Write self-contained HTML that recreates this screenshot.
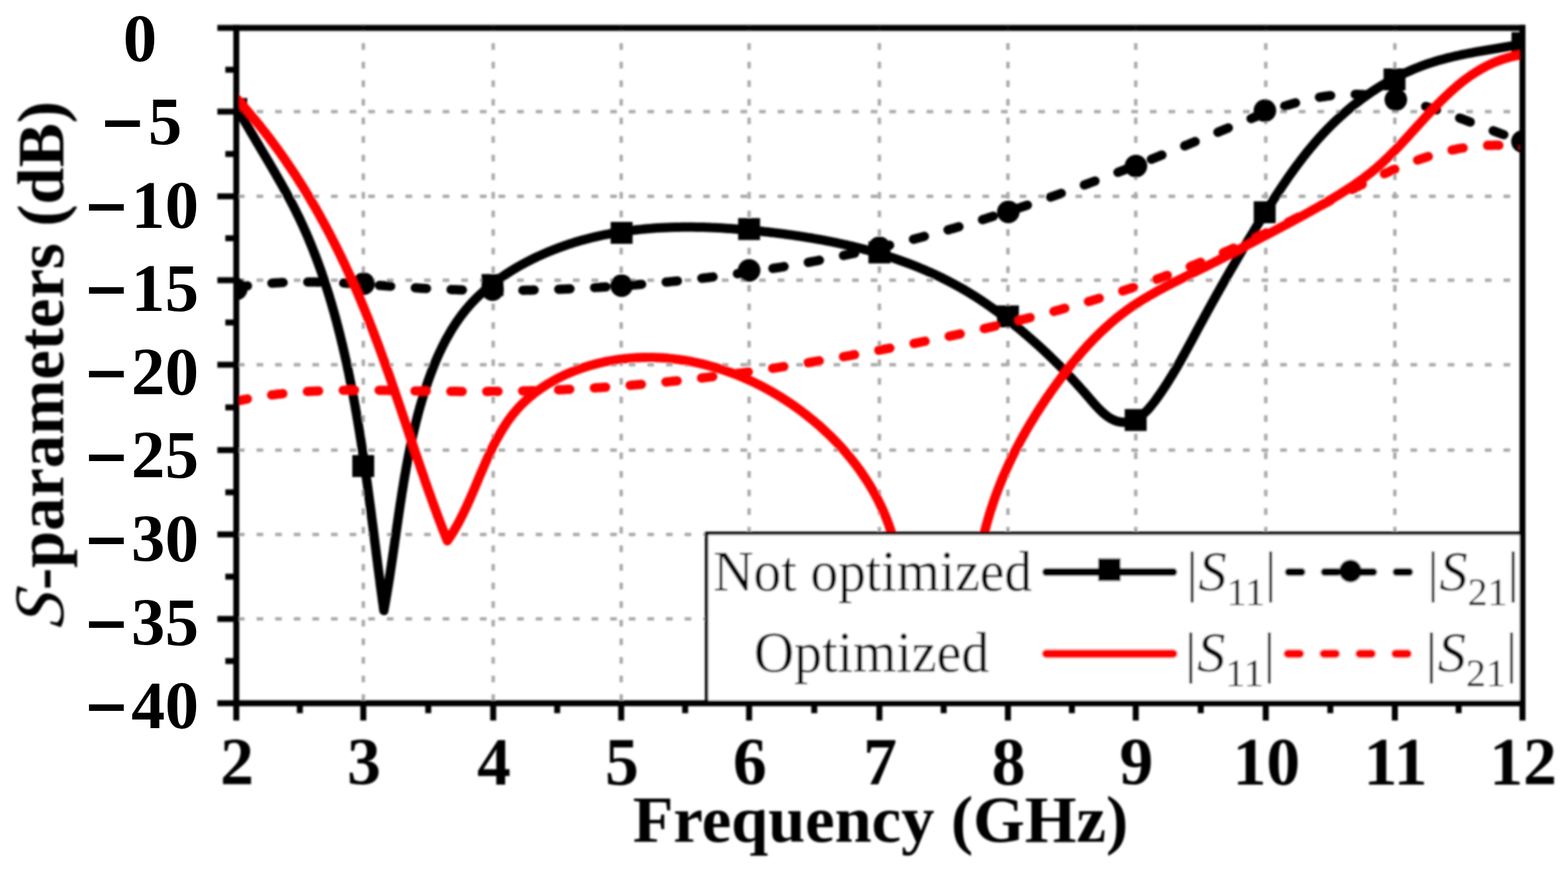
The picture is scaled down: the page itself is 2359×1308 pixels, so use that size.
<!DOCTYPE html><html><head><meta charset="utf-8"><style>html,body{margin:0;padding:0;background:#fff;}svg{display:block;}</style></head><body>
<svg width="2359" height="1308" viewBox="0 0 2359 1308">
<defs><clipPath id="pc"><rect x="355.5" y="42.0" width="1935.0" height="1016.5"/></clipPath>
<filter id="bl" filterUnits="userSpaceOnUse" x="0" y="0" width="2359" height="1308"><feGaussianBlur stdDeviation="1.5"/></filter></defs>
<rect width="2359" height="1308" fill="#fff"/>
<g filter="url(#bl)">
<g stroke="#a8a8a8" stroke-width="5" stroke-dasharray="10 18" fill="none"><line x1="546.6" y1="37.0" x2="546.6" y2="1058.5"/><line x1="742.0" y1="37.0" x2="742.0" y2="1058.5"/><line x1="934.6" y1="37.0" x2="934.6" y2="1058.5"/><line x1="1127.0" y1="37.0" x2="1127.0" y2="1058.5"/><line x1="1323.0" y1="37.0" x2="1323.0" y2="1058.5"/><line x1="1516.4" y1="37.0" x2="1516.4" y2="1058.5"/><line x1="1708.7" y1="37.0" x2="1708.7" y2="1058.5"/><line x1="1904.3" y1="37.0" x2="1904.3" y2="1058.5"/><line x1="2098.5" y1="37.0" x2="2098.5" y2="1058.5"/><line x1="358.0" y1="168.0" x2="2290.5" y2="168.0"/><line x1="358.0" y1="295.5" x2="2290.5" y2="295.5"/><line x1="358.0" y1="421.8" x2="2290.5" y2="421.8"/><line x1="358.0" y1="549.0" x2="2290.5" y2="549.0"/><line x1="358.0" y1="677.5" x2="2290.5" y2="677.5"/><line x1="358.0" y1="804.4" x2="2290.5" y2="804.4"/><line x1="358.0" y1="931.6" x2="2290.5" y2="931.6"/></g>
<g clip-path="url(#pc)" fill="none" stroke-linecap="round" stroke-linejoin="round">
<path d="M355.5,160.0L356.9,162.6L358.4,165.3L359.8,167.9L361.3,170.6L362.8,173.2L364.3,175.8L365.8,178.4L367.2,181.1L368.7,183.7L370.2,186.3L371.8,188.9L373.3,191.5L374.8,194.1L376.3,196.7L377.8,199.3L379.4,201.9L380.9,204.5L382.4,207.1L384.0,209.7L385.5,212.3L387.0,214.9L388.6,217.5L390.1,220.1L391.6,222.7L393.2,225.3L394.7,227.9L396.3,230.5L397.8,233.1L399.4,235.7L400.9,238.3L402.4,240.9L404.0,243.5L405.5,246.1L407.0,248.7L408.6,251.3L410.1,253.9L411.6,256.5L413.1,259.1L414.6,261.7L416.1,264.3L417.6,267.0L419.1,269.6L420.6,272.2L422.1,274.8L423.6,277.4L425.1,280.1L426.5,282.7L428.0,285.3L429.5,288.0L430.9,290.6L432.3,293.3L433.8,295.9L435.2,298.6L436.6,301.2L438.0,303.9L439.4,306.6L440.8,309.2L442.2,311.9L443.5,314.6L444.9,317.3L446.2,320.0L447.5,322.7L448.9,325.4L450.2,328.1L451.5,330.8L452.7,333.6L454.0,336.3L455.3,339.0L456.5,341.8L457.7,344.5L459.0,347.3L460.2,350.0L461.4,352.8L462.6,355.5L463.8,358.3L464.9,361.1L466.1,363.9L467.2,366.6L468.4,369.4L469.5,372.2L470.6,375.0L471.7,377.8L472.8,380.6L473.9,383.4L475.0,386.3L476.1,389.1L477.1,391.9L478.2,394.7L479.2,397.6L480.2,400.4L481.3,403.2L482.3,406.1L483.3,408.9L484.3,411.8L485.2,414.6L486.2,417.5L487.2,420.4L488.1,423.2L489.1,426.1L490.0,429.0L490.9,431.8L491.9,434.7L492.8,437.6L493.7,440.5L494.6,443.4L495.5,446.2L496.3,449.1L497.2,452.0L498.1,454.9L498.9,457.8L499.8,460.7L500.6,463.6L501.4,466.5L502.3,469.5L503.1,472.4L503.9,475.3L504.7,478.2L505.5,481.1L506.3,484.0L507.0,487.0L507.8,489.9L508.6,492.8L509.3,495.7L510.1,498.7L510.8,501.6L511.6,504.5L512.3,507.5L513.0,510.4L513.7,513.3L514.4,516.3L515.2,519.2L515.8,522.1L516.5,525.1L517.2,528.0L517.9,531.0L518.6,533.9L519.2,536.9L519.9,539.8L520.6,542.7L521.2,545.7L521.9,548.6L522.5,551.6L523.1,554.6L523.8,557.5L524.4,560.5L525.0,563.4L525.6,566.4L526.2,569.3L526.8,572.3L527.4,575.3L528.0,578.2L528.6,581.2L529.2,584.2L529.7,587.1L530.3,590.1L530.9,593.0L531.4,596.0L532.0,599.0L532.5,602.0L533.1,604.9L533.6,607.9L534.2,610.9L534.7,613.8L535.2,616.8L535.8,619.8L536.3,622.8L536.8,625.8L537.3,628.7L537.8,631.7L538.3,634.7L538.8,637.7L539.3,640.6L539.8,643.6L540.3,646.6L540.8,649.6L541.3,652.6L541.7,655.6L542.2,658.5L542.7,661.5L543.2,664.5L543.6,667.5L544.1,670.5L544.5,673.5L545.0,676.5L545.5,679.5L545.9,682.4L546.4,685.4L546.8,688.4L547.2,691.4L547.7,694.4L548.1,697.4L548.6,700.4L549.0,703.4L549.4,706.4L549.8,709.4L550.3,712.4L550.7,715.4L551.1,718.4L551.5,721.4L551.9,724.4L552.4,727.3L552.8,730.3L553.2,733.3L553.6,736.3L554.0,739.3L554.4,742.3L554.8,745.3L555.2,748.3L555.6,751.3L556.0,754.3L556.4,757.3L556.8,760.3L557.2,763.3L557.6,766.3L558.0,769.3L558.4,772.3L558.7,775.3L559.1,778.3L559.5,781.3L559.9,784.3L560.3,787.3L560.7,790.3L561.1,793.3L561.5,796.3L561.8,799.3L562.2,802.3L562.6,805.3L563.0,808.3L563.4,811.3L563.7,814.3L564.1,817.3L564.5,820.3L564.9,823.3L565.3,826.3L565.7,829.3L566.0,832.3L566.4,835.3L566.8,838.3L567.2,841.3L567.6,844.3L568.0,847.2L568.3,850.2L568.7,853.2L569.1,856.2L569.5,859.2L569.9,862.2L570.3,865.2L570.7,868.2L571.1,871.2L571.5,874.2L571.8,877.2L572.2,880.2L572.6,883.2L573.0,886.1L573.4,889.1L573.8,892.1L574.2,895.1L574.6,898.1L575.0,901.1L575.4,904.1L575.9,907.1L576.3,910.0L576.7,913.0L577.1,916.0L577.5,919.0L577.5,919.0L578.0,916.0L578.6,913.1L579.1,910.1L579.7,907.1L580.2,904.2L580.7,901.2L581.2,898.2L581.7,895.3L582.2,892.3L582.7,889.3L583.2,886.4L583.7,883.4L584.2,880.4L584.7,877.4L585.1,874.5L585.6,871.5L586.1,868.5L586.5,865.5L587.0,862.6L587.4,859.6L587.9,856.6L588.3,853.6L588.8,850.7L589.2,847.7L589.7,844.7L590.1,841.7L590.6,838.7L591.0,835.8L591.4,832.8L591.9,829.8L592.3,826.8L592.7,823.8L593.2,820.9L593.6,817.9L594.0,814.9L594.4,811.9L594.9,808.9L595.3,805.9L595.7,803.0L596.1,800.0L596.6,797.0L597.0,794.0L597.4,791.0L597.9,788.1L598.3,785.1L598.7,782.1L599.2,779.1L599.6,776.2L600.0,773.2L600.5,770.2L600.9,767.2L601.4,764.2L601.8,761.3L602.2,758.3L602.7,755.3L603.2,752.4L603.6,749.4L604.1,746.4L604.5,743.4L605.0,740.5L605.5,737.5L606.0,734.5L606.5,731.6L606.9,728.6L607.4,725.6L607.9,722.7L608.4,719.7L608.9,716.8L609.4,713.8L610.0,710.8L610.5,707.9L611.0,704.9L611.6,702.0L612.1,699.0L612.7,696.1L613.2,693.1L613.8,690.2L614.3,687.2L614.9,684.3L615.5,681.3L616.1,678.4L616.7,675.4L617.3,672.5L617.9,669.6L618.5,666.6L619.2,663.7L619.8,660.8L620.5,657.8L621.1,654.9L621.8,652.0L622.5,649.0L623.2,646.1L623.9,643.2L624.6,640.3L625.3,637.4L626.0,634.4L626.8,631.5L627.5,628.6L628.3,625.7L629.0,622.8L629.8,619.9L630.6,617.0L631.4,614.1L632.2,611.2L633.1,608.3L633.9,605.4L634.8,602.5L635.6,599.6L636.5,596.8L637.4,593.9L638.3,591.0L639.2,588.1L640.2,585.3L641.1,582.4L642.1,579.5L643.0,576.7L644.0,573.8L645.0,570.9L646.0,568.1L647.1,565.2L648.1,562.4L649.2,559.6L650.3,556.7L651.4,553.9L652.5,551.1L653.6,548.3L654.8,545.5L655.9,542.7L657.1,539.9L658.3,537.2L659.6,534.4L660.8,531.7L662.1,528.9L663.4,526.2L664.7,523.5L666.0,520.8L667.4,518.1L668.7,515.4L670.1,512.7L671.6,510.1L673.0,507.5L674.5,504.9L676.0,502.3L677.5,499.7L679.0,497.1L680.6,494.6L682.2,492.0L683.8,489.5L685.4,487.0L687.1,484.5L688.8,482.1L690.5,479.6L692.3,477.2L694.0,474.8L695.9,472.4L697.7,470.1L699.6,467.7L701.4,465.4L703.4,463.2L705.3,460.9L707.3,458.6L709.3,456.4L711.4,454.2L713.4,452.1L715.5,449.9L717.7,447.8L719.8,445.7L722.0,443.6L724.2,441.6L726.4,439.6L728.7,437.6L731.0,435.6L733.3,433.6L735.6,431.7L737.9,429.8L740.3,427.9L742.7,426.0L745.1,424.2L747.5,422.4L750.0,420.6L752.5,418.8L755.0,417.0L757.5,415.3L760.0,413.6L762.5,411.9L765.1,410.3L767.6,408.6L770.2,407.0L772.8,405.4L775.4,403.9L778.1,402.3L780.7,400.8L783.3,399.3L786.0,397.8L788.7,396.4L791.4,394.9L794.1,393.5L796.8,392.1L799.5,390.8L802.2,389.4L804.9,388.1L807.6,386.8L810.4,385.5L813.1,384.3L815.9,383.0L818.6,381.8L821.4,380.6L824.1,379.4L826.9,378.3L829.7,377.2L832.5,376.1L835.3,375.0L838.0,373.9L840.8,372.8L843.7,371.8L846.5,370.8L849.3,369.8L852.1,368.8L854.9,367.9L857.8,367.0L860.6,366.1L863.4,365.2L866.3,364.3L869.1,363.4L872.0,362.6L874.9,361.8L877.7,361.0L880.6,360.2L883.5,359.5L886.4,358.7L889.2,358.0L892.1,357.3L895.0,356.6L897.9,355.9L900.8,355.3L903.7,354.6L906.6,354.0L909.5,353.4L912.5,352.8L915.4,352.3L918.3,351.7L921.2,351.2L924.2,350.7L927.1,350.2L930.0,349.7L933.0,349.2L935.9,348.8L938.9,348.3L941.8,347.9L944.8,347.5L947.8,347.1L950.7,346.7L953.7,346.4L956.7,346.0L959.6,345.7L962.6,345.4L965.6,345.1L968.6,344.8L971.5,344.5L974.5,344.2L977.5,344.0L980.5,343.8L983.5,343.5L986.5,343.3L989.5,343.1L992.5,343.0L995.5,342.8L998.5,342.7L1001.5,342.5L1004.5,342.4L1007.5,342.3L1010.5,342.2L1013.5,342.1L1016.5,342.0L1019.6,341.9L1022.6,341.9L1025.6,341.8L1028.6,341.8L1031.6,341.8L1034.7,341.8L1037.7,341.8L1040.7,341.8L1043.7,341.8L1046.8,341.9L1049.8,341.9L1052.8,342.0L1055.8,342.1L1058.9,342.1L1061.9,342.2L1064.9,342.3L1068.0,342.4L1071.0,342.6L1074.0,342.7L1077.1,342.8L1080.1,343.0L1083.1,343.1L1086.2,343.3L1089.2,343.5L1092.2,343.7L1095.3,343.9L1098.3,344.1L1101.3,344.3L1104.4,344.5L1107.4,344.7L1110.4,344.9L1113.5,345.2L1116.5,345.4L1119.5,345.7L1122.6,346.0L1125.6,346.2L1128.6,346.5L1131.6,346.8L1134.7,347.1L1137.7,347.4L1140.7,347.7L1143.7,348.0L1146.8,348.3L1149.8,348.7L1152.8,349.0L1155.8,349.3L1158.9,349.7L1161.9,350.0L1164.9,350.4L1167.9,350.7L1170.9,351.1L1173.9,351.5L1176.9,351.9L1179.9,352.3L1182.9,352.7L1185.9,353.1L1188.9,353.5L1191.9,353.9L1194.9,354.3L1197.9,354.8L1200.9,355.2L1203.9,355.7L1206.9,356.1L1209.9,356.6L1212.9,357.1L1215.9,357.6L1218.8,358.0L1221.8,358.5L1224.8,359.1L1227.8,359.6L1230.7,360.1L1233.7,360.6L1236.7,361.2L1239.6,361.7L1242.6,362.3L1245.5,362.9L1248.5,363.4L1251.4,364.0L1254.4,364.6L1257.3,365.2L1260.3,365.8L1263.2,366.5L1266.1,367.1L1269.1,367.8L1272.0,368.4L1274.9,369.1L1277.8,369.8L1280.8,370.4L1283.7,371.1L1286.6,371.9L1289.5,372.6L1292.4,373.3L1295.3,374.0L1298.2,374.8L1301.1,375.6L1304.0,376.3L1306.9,377.1L1309.7,377.9L1312.6,378.7L1315.5,379.5L1318.3,380.4L1321.2,381.2L1324.1,382.1L1326.9,382.9L1329.8,383.8L1332.6,384.7L1335.5,385.6L1338.3,386.5L1341.1,387.5L1344.0,388.4L1346.8,389.3L1349.6,390.3L1352.4,391.3L1355.2,392.3L1358.0,393.3L1360.8,394.3L1363.6,395.3L1366.4,396.4L1369.2,397.4L1372.0,398.5L1374.7,399.6L1377.5,400.7L1380.3,401.8L1383.0,402.9L1385.8,404.1L1388.5,405.2L1391.3,406.4L1394.0,407.6L1396.7,408.8L1399.5,410.0L1402.2,411.2L1404.9,412.5L1407.6,413.7L1410.3,415.0L1413.0,416.3L1415.7,417.6L1418.4,418.9L1421.0,420.2L1423.7,421.6L1426.4,422.9L1429.0,424.3L1431.7,425.7L1434.3,427.1L1437.0,428.6L1439.6,430.0L1442.2,431.5L1444.9,432.9L1447.5,434.4L1450.1,435.9L1452.7,437.4L1455.3,439.0L1457.9,440.5L1460.4,442.1L1463.0,443.7L1465.6,445.3L1468.1,446.9L1470.7,448.6L1473.2,450.2L1475.8,451.9L1478.3,453.6L1480.8,455.3L1483.3,457.0L1485.8,458.8L1488.3,460.5L1490.8,462.2L1493.3,464.0L1495.8,465.8L1498.2,467.6L1500.7,469.4L1503.2,471.2L1505.6,473.0L1508.0,474.9L1510.4,476.7L1512.8,478.6L1515.2,480.4L1517.6,482.3L1520.0,484.2L1522.4,486.1L1524.7,488.0L1527.1,489.9L1529.4,491.8L1531.7,493.7L1534.1,495.6L1536.4,497.5L1538.7,499.5L1540.9,501.4L1543.2,503.3L1545.5,505.3L1547.7,507.2L1550.0,509.2L1552.2,511.1L1554.4,513.1L1556.6,515.0L1558.8,517.0L1561.0,518.9L1563.2,520.9L1565.3,522.9L1567.5,524.9L1569.6,526.9L1571.8,528.9L1573.9,530.9L1576.0,532.9L1578.1,534.9L1580.2,536.9L1582.3,539.0L1584.4,541.0L1586.5,543.1L1588.6,545.1L1590.7,547.2L1592.8,549.3L1594.9,551.4L1597.0,553.5L1599.0,555.6L1601.1,557.8L1603.2,559.9L1605.3,562.1L1607.3,564.3L1609.4,566.5L1611.5,568.7L1613.5,570.9L1615.6,573.1L1617.7,575.4L1619.8,577.7L1621.8,580.0L1623.9,582.3L1626.0,584.6L1628.1,587.0L1630.2,589.3L1632.3,591.7L1634.4,594.1L1636.5,596.6L1638.6,599.0L1640.7,601.5L1642.8,603.9L1645.0,606.4L1647.1,608.8L1649.3,611.2L1651.5,613.5L1653.7,615.8L1655.9,618.0L1658.1,620.1L1660.4,622.1L1662.7,624.1L1665.0,625.9L1667.3,627.6L1669.7,629.1L1672.1,630.5L1674.5,631.7L1677.0,632.8L1679.5,633.7L1682.0,634.4L1684.5,635.0L1687.1,635.3L1689.6,635.5L1692.2,635.5L1694.8,635.4L1697.3,635.1L1699.8,634.5L1702.3,633.9L1704.8,633.0L1707.2,631.9L1709.6,630.7L1712.0,629.3L1714.3,627.8L1716.6,626.1L1718.9,624.3L1721.1,622.3L1723.3,620.2L1725.4,618.1L1727.6,615.8L1729.7,613.4L1731.7,611.0L1733.7,608.5L1735.7,606.0L1737.7,603.4L1739.6,600.8L1741.5,598.1L1743.4,595.5L1745.2,592.8L1747.1,590.2L1748.8,587.5L1750.6,584.9L1752.4,582.2L1754.1,579.6L1755.8,576.9L1757.5,574.3L1759.1,571.7L1760.7,569.0L1762.4,566.4L1764.0,563.8L1765.5,561.2L1767.1,558.5L1768.7,555.9L1770.2,553.3L1771.7,550.7L1773.2,548.1L1774.7,545.5L1776.2,542.9L1777.6,540.2L1779.1,537.6L1780.5,535.0L1782.0,532.4L1783.4,529.8L1784.8,527.2L1786.3,524.6L1787.7,522.0L1789.1,519.4L1790.5,516.8L1791.9,514.2L1793.3,511.6L1794.7,509.0L1796.1,506.4L1797.5,503.8L1798.9,501.2L1800.3,498.5L1801.7,495.9L1803.1,493.3L1804.5,490.7L1805.9,488.1L1807.3,485.5L1808.8,482.9L1810.2,480.3L1811.6,477.7L1813.0,475.0L1814.5,472.4L1815.9,469.8L1817.3,467.2L1818.8,464.6L1820.2,462.0L1821.7,459.3L1823.1,456.7L1824.6,454.1L1826.0,451.5L1827.5,448.9L1829.0,446.2L1830.4,443.6L1831.9,441.0L1833.4,438.4L1834.8,435.8L1836.3,433.2L1837.8,430.5L1839.3,427.9L1840.8,425.3L1842.2,422.7L1843.7,420.1L1845.2,417.5L1846.7,414.8L1848.2,412.2L1849.7,409.6L1851.2,407.0L1852.7,404.4L1854.3,401.8L1855.8,399.2L1857.3,396.6L1858.8,394.0L1860.3,391.3L1861.9,388.7L1863.4,386.1L1864.9,383.5L1866.4,380.9L1868.0,378.3L1869.5,375.7L1871.1,373.1L1872.6,370.5L1874.2,367.9L1875.7,365.3L1877.3,362.7L1878.8,360.1L1880.4,357.5L1882.0,355.0L1883.5,352.4L1885.1,349.8L1886.7,347.2L1888.2,344.6L1889.8,342.0L1891.4,339.5L1893.0,336.9L1894.6,334.3L1896.2,331.7L1897.8,329.2L1899.4,326.6L1901.0,324.0L1902.6,321.5L1904.2,318.9L1905.8,316.3L1907.4,313.8L1909.0,311.2L1910.6,308.7L1912.2,306.1L1913.9,303.6L1915.5,301.0L1917.1,298.5L1918.8,296.0L1920.4,293.4L1922.1,290.9L1923.7,288.4L1925.4,285.9L1927.0,283.4L1928.7,280.9L1930.4,278.4L1932.1,275.9L1933.8,273.4L1935.5,270.9L1937.2,268.4L1938.9,265.9L1940.6,263.5L1942.4,261.0L1944.1,258.6L1945.9,256.1L1947.6,253.7L1949.4,251.3L1951.2,248.9L1953.0,246.5L1954.8,244.1L1956.6,241.7L1958.4,239.3L1960.3,236.9L1962.1,234.5L1964.0,232.2L1965.8,229.8L1967.7,227.5L1969.6,225.2L1971.5,222.9L1973.4,220.6L1975.4,218.3L1977.3,216.0L1979.3,213.7L1981.2,211.5L1983.2,209.2L1985.2,207.0L1987.2,204.8L1989.3,202.5L1991.3,200.3L1993.4,198.2L1995.5,196.0L1997.5,193.8L1999.7,191.7L2001.8,189.5L2003.9,187.4L2006.1,185.3L2008.2,183.2L2010.4,181.1L2012.6,179.1L2014.8,177.0L2017.1,175.0L2019.3,173.0L2021.5,171.0L2023.8,169.0L2026.1,167.0L2028.4,165.1L2030.7,163.1L2033.0,161.2L2035.4,159.3L2037.7,157.4L2040.1,155.5L2042.5,153.7L2044.9,151.8L2047.3,150.0L2049.7,148.2L2052.1,146.4L2054.6,144.7L2057.0,142.9L2059.5,141.2L2062.0,139.5L2064.5,137.8L2067.0,136.1L2069.5,134.5L2072.0,132.9L2074.6,131.3L2077.1,129.7L2079.7,128.1L2082.3,126.5L2084.9,125.0L2087.5,123.5L2090.1,122.0L2092.7,120.6L2095.4,119.1L2098.0,117.7L2100.7,116.3L2103.4,114.9L2106.1,113.6L2108.8,112.3L2111.5,110.9L2114.2,109.7L2116.9,108.4L2119.7,107.2L2122.4,106.0L2125.2,104.8L2127.9,103.6L2130.7,102.5L2133.5,101.4L2136.3,100.3L2139.1,99.2L2141.9,98.2L2144.8,97.2L2147.6,96.2L2150.5,95.2L2153.3,94.3L2156.2,93.4L2159.1,92.5L2161.9,91.6L2164.8,90.8L2167.7,90.0L2170.6,89.2L2173.6,88.4L2176.5,87.6L2179.4,86.9L2182.3,86.2L2185.3,85.5L2188.2,84.8L2191.2,84.1L2194.1,83.5L2197.1,82.8L2200.0,82.2L2203.0,81.6L2206.0,81.0L2208.9,80.4L2211.9,79.8L2214.9,79.3L2217.9,78.7L2220.8,78.2L2223.8,77.6L2226.8,77.1L2229.8,76.6L2232.8,76.1L2235.8,75.6L2238.7,75.1L2241.7,74.6L2244.7,74.1L2247.7,73.6L2250.7,73.1L2253.6,72.6L2256.6,72.1L2259.6,71.6L2262.6,71.1L2265.5,70.6L2268.5,70.1L2271.4,69.6L2274.4,69.1L2277.3,68.6L2280.3,68.1L2283.2,67.6L2286.2,67.1L2289.1,66.5L2292.0,66.0" stroke="#000" stroke-width="14"/>
<path d="M355.5,433.0L358.5,432.5L361.5,432.0L364.4,431.5L367.4,431.0L370.4,430.5L373.4,430.1L376.4,429.7L379.4,429.3L382.3,428.9L385.3,428.5L388.3,428.2L391.3,427.9L394.3,427.6L397.3,427.3L400.3,427.0L403.3,426.7L406.3,426.5L409.3,426.3L412.2,426.0L415.2,425.8L418.2,425.7L421.2,425.5L424.2,425.3L427.2,425.2L430.2,425.1L433.2,424.9L436.2,424.8L439.2,424.8L442.2,424.7L445.2,424.6L448.2,424.6L451.2,424.5L454.2,424.5L457.2,424.5L460.2,424.5L463.2,424.5L466.2,424.5L469.2,424.5L472.2,424.6L475.2,424.6L478.2,424.7L481.2,424.7L484.2,424.8L487.2,424.9L490.2,425.0L493.2,425.1L496.3,425.2L499.3,425.3L502.3,425.4L505.3,425.5L508.3,425.7L511.3,425.8L514.3,426.0L517.3,426.1L520.3,426.3L523.3,426.4L526.3,426.6L529.3,426.8L532.3,427.0L535.3,427.1L538.4,427.3L541.4,427.5L544.4,427.7L547.4,427.9L550.4,428.1L553.4,428.3L556.4,428.5L559.4,428.7L562.4,428.9L565.4,429.1L568.4,429.4L571.5,429.6L574.5,429.8L577.5,430.0L580.5,430.2L583.5,430.4L586.5,430.7L589.5,430.9L592.5,431.1L595.5,431.3L598.5,431.5L601.5,431.7L604.5,431.9L607.6,432.1L610.6,432.3L613.6,432.5L616.6,432.7L619.6,432.9L622.6,433.1L625.6,433.3L628.6,433.5L631.6,433.7L634.6,433.9L637.6,434.0L640.6,434.2L643.6,434.4L646.6,434.5L649.6,434.7L652.6,434.8L655.6,434.9L658.6,435.1L661.7,435.2L664.7,435.3L667.7,435.5L670.7,435.6L673.7,435.7L676.7,435.8L679.7,435.9L682.7,436.0L685.7,436.1L688.7,436.2L691.7,436.3L694.7,436.4L697.7,436.5L700.7,436.5L703.7,436.6L706.7,436.7L709.7,436.7L712.7,436.8L715.7,436.8L718.7,436.9L721.7,436.9L724.7,437.0L727.7,437.0L730.7,437.0L733.7,437.1L736.7,437.1L739.7,437.1L742.7,437.1L745.7,437.1L748.7,437.1L751.7,437.2L754.6,437.1L757.6,437.1L760.6,437.1L763.6,437.1L766.6,437.1L769.6,437.1L772.6,437.1L775.6,437.0L778.6,437.0L781.6,437.0L784.6,436.9L787.6,436.9L790.6,436.8L793.6,436.8L796.6,436.7L799.6,436.7L802.6,436.6L805.6,436.5L808.6,436.4L811.6,436.4L814.6,436.3L817.6,436.2L820.6,436.1L823.6,436.0L826.6,435.9L829.6,435.8L832.6,435.7L835.6,435.6L838.6,435.5L841.5,435.4L844.5,435.3L847.5,435.2L850.5,435.1L853.5,434.9L856.5,434.8L859.5,434.7L862.5,434.5L865.5,434.4L868.5,434.3L871.5,434.1L874.5,434.0L877.5,433.8L880.5,433.6L883.5,433.5L886.5,433.3L889.5,433.2L892.5,433.0L895.5,432.8L898.5,432.6L901.5,432.5L904.5,432.3L907.5,432.1L910.5,431.9L913.5,431.7L916.5,431.5L919.5,431.3L922.5,431.1L925.5,430.9L928.5,430.7L931.5,430.5L934.4,430.3L937.4,430.1L940.4,429.8L943.4,429.6L946.4,429.4L949.4,429.2L952.4,428.9L955.4,428.7L958.4,428.4L961.4,428.2L964.4,428.0L967.4,427.7L970.4,427.5L973.4,427.2L976.4,426.9L979.4,426.7L982.4,426.4L985.4,426.1L988.4,425.9L991.4,425.6L994.4,425.3L997.4,425.0L1000.4,424.7L1003.4,424.4L1006.4,424.2L1009.4,423.9L1012.4,423.6L1015.4,423.3L1018.4,423.0L1021.4,422.6L1024.4,422.3L1027.4,422.0L1030.3,421.7L1033.3,421.4L1036.3,421.0L1039.3,420.7L1042.3,420.4L1045.3,420.0L1048.3,419.7L1051.3,419.4L1054.3,419.0L1057.3,418.7L1060.3,418.3L1063.3,418.0L1066.3,417.6L1069.2,417.2L1072.2,416.9L1075.2,416.5L1078.2,416.1L1081.2,415.7L1084.2,415.4L1087.2,415.0L1090.2,414.6L1093.1,414.2L1096.1,413.8L1099.1,413.4L1102.1,413.0L1105.1,412.6L1108.1,412.2L1111.1,411.8L1114.0,411.3L1117.0,410.9L1120.0,410.5L1123.0,410.1L1126.0,409.6L1129.0,409.2L1131.9,408.8L1134.9,408.3L1137.9,407.9L1140.9,407.4L1143.8,407.0L1146.8,406.5L1149.8,406.1L1152.8,405.6L1155.8,405.1L1158.7,404.7L1161.7,404.2L1164.7,403.7L1167.7,403.2L1170.6,402.8L1173.6,402.3L1176.6,401.8L1179.5,401.3L1182.5,400.8L1185.5,400.3L1188.4,399.8L1191.4,399.3L1194.4,398.8L1197.3,398.2L1200.3,397.7L1203.3,397.2L1206.2,396.7L1209.2,396.1L1212.2,395.6L1215.1,395.1L1218.1,394.5L1221.0,394.0L1224.0,393.4L1227.0,392.9L1229.9,392.3L1232.9,391.7L1235.8,391.2L1238.8,390.6L1241.7,390.0L1244.7,389.5L1247.6,388.9L1250.6,388.3L1253.5,387.7L1256.5,387.1L1259.4,386.5L1262.4,385.9L1265.3,385.3L1268.3,384.7L1271.2,384.1L1274.2,383.5L1277.1,382.9L1280.0,382.2L1283.0,381.6L1285.9,381.0L1288.9,380.4L1291.8,379.7L1294.7,379.1L1297.7,378.4L1300.6,377.8L1303.5,377.1L1306.5,376.5L1309.4,375.8L1312.3,375.2L1315.3,374.5L1318.2,373.8L1321.1,373.1L1324.0,372.5L1327.0,371.8L1329.9,371.1L1332.8,370.4L1335.7,369.7L1338.7,369.0L1341.6,368.3L1344.5,367.6L1347.4,366.9L1350.3,366.2L1353.2,365.4L1356.1,364.7L1359.1,364.0L1362.0,363.3L1364.9,362.5L1367.8,361.8L1370.7,361.1L1373.6,360.3L1376.5,359.6L1379.4,358.8L1382.3,358.0L1385.2,357.3L1388.1,356.5L1391.0,355.7L1393.9,355.0L1396.8,354.2L1399.7,353.4L1402.6,352.6L1405.5,351.8L1408.4,351.0L1411.2,350.2L1414.1,349.4L1417.0,348.6L1419.9,347.8L1422.8,347.0L1425.7,346.2L1428.5,345.4L1431.4,344.5L1434.3,343.7L1437.2,342.9L1440.1,342.0L1442.9,341.2L1445.8,340.4L1448.7,339.5L1451.6,338.7L1454.4,337.8L1457.3,337.0L1460.2,336.1L1463.0,335.2L1465.9,334.4L1468.8,333.5L1471.6,332.6L1474.5,331.7L1477.3,330.9L1480.2,330.0L1483.1,329.1L1485.9,328.2L1488.8,327.3L1491.6,326.4L1494.5,325.5L1497.3,324.6L1500.2,323.7L1503.1,322.8L1505.9,321.9L1508.8,320.9L1511.6,320.0L1514.5,319.1L1517.3,318.2L1520.1,317.2L1523.0,316.3L1525.8,315.4L1528.7,314.4L1531.5,313.5L1534.4,312.5L1537.2,311.6L1540.0,310.6L1542.9,309.7L1545.7,308.7L1548.6,307.8L1551.4,306.8L1554.2,305.8L1557.1,304.9L1559.9,303.9L1562.7,302.9L1565.6,301.9L1568.4,301.0L1571.2,300.0L1574.1,299.0L1576.9,298.0L1579.7,297.0L1582.6,296.0L1585.4,295.0L1588.2,294.0L1591.0,293.0L1593.9,292.0L1596.7,291.0L1599.5,290.0L1602.3,289.0L1605.2,288.0L1608.0,286.9L1610.8,285.9L1613.6,284.9L1616.4,283.9L1619.3,282.8L1622.1,281.8L1624.9,280.8L1627.7,279.7L1630.5,278.7L1633.4,277.7L1636.2,276.6L1639.0,275.6L1641.8,274.5L1644.6,273.5L1647.4,272.4L1650.2,271.4L1653.1,270.3L1655.9,269.3L1658.7,268.2L1661.5,267.1L1664.3,266.1L1667.1,265.0L1669.9,263.9L1672.7,262.9L1675.5,261.8L1678.3,260.7L1681.2,259.6L1684.0,258.6L1686.8,257.5L1689.6,256.4L1692.4,255.3L1695.2,254.2L1698.0,253.1L1700.8,252.0L1703.6,251.0L1706.4,249.9L1709.2,248.8L1712.0,247.7L1714.8,246.6L1717.6,245.5L1720.4,244.4L1723.2,243.2L1726.0,242.1L1728.8,241.0L1731.6,239.9L1734.4,238.8L1737.2,237.7L1740.0,236.6L1742.8,235.5L1745.6,234.3L1748.4,233.2L1751.2,232.1L1754.0,231.0L1756.8,229.8L1759.6,228.7L1762.4,227.6L1765.2,226.5L1768.0,225.3L1770.8,224.2L1773.6,223.1L1776.4,221.9L1779.2,220.8L1782.0,219.7L1784.8,218.5L1787.6,217.4L1790.4,216.2L1793.2,215.1L1796.0,213.9L1798.8,212.8L1801.6,211.7L1804.4,210.5L1807.2,209.4L1810.0,208.2L1812.8,207.1L1815.6,205.9L1818.4,204.7L1821.2,203.6L1824.0,202.4L1826.8,201.3L1829.6,200.1L1832.4,199.0L1835.2,197.8L1838.0,196.6L1840.8,195.5L1843.6,194.3L1846.4,193.2L1849.2,192.0L1852.0,190.8L1854.8,189.7L1857.6,188.5L1860.4,187.3L1863.2,186.2L1866.0,185.0L1868.8,183.9L1871.6,182.7L1874.4,181.6L1877.2,180.4L1880.0,179.3L1882.8,178.2L1885.6,177.0L1888.4,175.9L1891.2,174.8L1894.0,173.7L1896.8,172.6L1899.6,171.5L1902.4,170.5L1905.2,169.4L1908.1,168.4L1910.9,167.3L1913.7,166.3L1916.5,165.3L1919.3,164.3L1922.2,163.3L1925.0,162.3L1927.8,161.4L1930.6,160.5L1933.5,159.5L1936.3,158.6L1939.1,157.7L1942.0,156.9L1944.8,156.0L1947.7,155.2L1950.5,154.4L1953.4,153.6L1956.2,152.8L1959.1,152.1L1961.9,151.4L1964.8,150.7L1967.6,150.0L1970.5,149.3L1973.4,148.7L1976.2,148.1L1979.1,147.5L1982.0,147.0L1984.9,146.4L1987.8,145.9L1990.7,145.5L1993.5,145.0L1996.4,144.6L1999.3,144.2L2002.2,143.9L2005.1,143.6L2008.1,143.3L2011.0,143.0L2013.9,142.8L2016.8,142.6L2019.7,142.4L2022.7,142.3L2025.6,142.2L2028.5,142.1L2031.4,142.0L2034.4,142.0L2037.3,142.0L2040.3,142.1L2043.2,142.1L2046.2,142.2L2049.1,142.3L2052.0,142.5L2055.0,142.7L2058.0,142.9L2060.9,143.1L2063.9,143.4L2066.8,143.7L2069.8,144.0L2072.7,144.3L2075.7,144.7L2078.6,145.1L2081.6,145.5L2084.6,145.9L2087.5,146.4L2090.5,146.9L2093.4,147.4L2096.4,148.0L2099.4,148.6L2102.3,149.1L2105.3,149.8L2108.2,150.4L2111.2,151.1L2114.2,151.8L2117.1,152.5L2120.1,153.2L2123.0,154.0L2126.0,154.8L2128.9,155.6L2131.9,156.4L2134.8,157.2L2137.8,158.1L2140.7,158.9L2143.7,159.8L2146.6,160.7L2149.5,161.6L2152.5,162.5L2155.4,163.5L2158.4,164.4L2161.3,165.4L2164.2,166.4L2167.1,167.4L2170.1,168.4L2173.0,169.4L2175.9,170.4L2178.8,171.4L2181.7,172.5L2184.7,173.5L2187.6,174.6L2190.5,175.7L2193.4,176.7L2196.3,177.8L2199.2,178.9L2202.0,179.9L2204.9,181.0L2207.8,182.1L2210.7,183.2L2213.6,184.3L2216.4,185.4L2219.3,186.5L2222.2,187.6L2225.0,188.7L2227.9,189.8L2230.7,190.8L2233.6,191.9L2236.4,193.0L2239.2,194.1L2242.1,195.2L2244.9,196.2L2247.7,197.3L2250.5,198.3L2253.3,199.4L2256.1,200.4L2258.9,201.5L2261.7,202.5L2264.5,203.5L2267.3,204.5L2270.0,205.5L2272.8,206.5L2275.6,207.5L2278.3,208.4L2281.1,209.4L2283.8,210.3L2286.5,211.2L2289.3,212.1L2292.0,213.0" stroke="#000" stroke-width="14" stroke-dasharray="17 37"/>
<rect x="339.0" y="147.5" width="33" height="33" fill="#000" stroke="none"/><rect x="530.0" y="685.0" width="33" height="33" fill="#000" stroke="none"/><rect x="724.5" y="412.5" width="33" height="33" fill="#000" stroke="none"/><rect x="918.7" y="334.0" width="33" height="33" fill="#000" stroke="none"/><rect x="1110.5" y="328.3" width="33" height="33" fill="#000" stroke="none"/><rect x="1306.5" y="363.5" width="33" height="33" fill="#000" stroke="none"/><rect x="1499.9" y="459.7" width="33" height="33" fill="#000" stroke="none"/><rect x="1692.1" y="615.7" width="33" height="33" fill="#000" stroke="none"/><rect x="1886.2" y="303.0" width="33" height="33" fill="#000" stroke="none"/><rect x="2081.5" y="103.0" width="33" height="33" fill="#000" stroke="none"/><rect x="2274.0" y="48.5" width="33" height="33" fill="#000" stroke="none"/><circle cx="355.5" cy="435.0" r="17" fill="#000" stroke="none"/><circle cx="547.0" cy="427.0" r="17" fill="#000" stroke="none"/><circle cx="741.0" cy="436.0" r="17" fill="#000" stroke="none"/><circle cx="935.2" cy="430.0" r="17" fill="#000" stroke="none"/><circle cx="1127.0" cy="407.0" r="17" fill="#000" stroke="none"/><circle cx="1323.0" cy="373.0" r="17" fill="#000" stroke="none"/><circle cx="1517.0" cy="319.0" r="17" fill="#000" stroke="none"/><circle cx="1709.0" cy="250.0" r="17" fill="#000" stroke="none"/><circle cx="1903.0" cy="166.5" r="17" fill="#000" stroke="none"/><circle cx="2100.0" cy="150.0" r="17" fill="#000" stroke="none"/><circle cx="2290.5" cy="213.0" r="17" fill="#000" stroke="none"/>
<path d="M355.5,148.0L357.6,150.3L359.6,152.5L361.6,154.8L363.7,157.1L365.7,159.4L367.7,161.7L369.7,164.0L371.7,166.3L373.7,168.6L375.6,170.9L377.6,173.3L379.6,175.6L381.5,177.9L383.4,180.3L385.4,182.6L387.3,185.0L389.2,187.3L391.1,189.7L393.0,192.1L394.9,194.5L396.7,196.8L398.6,199.2L400.5,201.6L402.3,204.0L404.2,206.4L406.0,208.9L407.8,211.3L409.6,213.7L411.4,216.1L413.2,218.6L415.0,221.0L416.8,223.4L418.6,225.9L420.3,228.4L422.1,230.8L423.8,233.3L425.6,235.8L427.3,238.2L429.0,240.7L430.7,243.2L432.4,245.7L434.1,248.2L435.8,250.7L437.5,253.2L439.2,255.7L440.9,258.2L442.5,260.8L444.2,263.3L445.8,265.8L447.4,268.4L449.1,270.9L450.7,273.4L452.3,276.0L453.9,278.6L455.5,281.1L457.1,283.7L458.7,286.2L460.2,288.8L461.8,291.4L463.4,294.0L464.9,296.6L466.5,299.2L468.0,301.8L469.5,304.4L471.0,307.0L472.5,309.6L474.1,312.2L475.6,314.8L477.0,317.4L478.5,320.0L480.0,322.7L481.5,325.3L482.9,328.0L484.4,330.6L485.8,333.2L487.3,335.9L488.7,338.5L490.1,341.2L491.6,343.9L493.0,346.5L494.4,349.2L495.8,351.9L497.2,354.5L498.6,357.2L499.9,359.9L501.3,362.6L502.7,365.3L504.0,368.0L505.4,370.7L506.7,373.4L508.1,376.1L509.4,378.8L510.7,381.5L512.1,384.2L513.4,386.9L514.7,389.7L516.0,392.4L517.3,395.1L518.6,397.8L519.9,400.6L521.1,403.3L522.4,406.1L523.7,408.8L524.9,411.5L526.2,414.3L527.4,417.0L528.7,419.8L529.9,422.6L531.1,425.3L532.3,428.1L533.6,430.8L534.8,433.6L536.0,436.4L537.2,439.2L538.4,441.9L539.6,444.7L540.7,447.5L541.9,450.3L543.1,453.1L544.2,455.9L545.4,458.7L546.6,461.5L547.7,464.3L548.9,467.0L550.0,469.9L551.1,472.7L552.2,475.5L553.4,478.3L554.5,481.1L555.6,483.9L556.7,486.7L557.8,489.5L558.9,492.3L560.0,495.2L561.1,498.0L562.2,500.8L563.2,503.6L564.3,506.5L565.4,509.3L566.4,512.1L567.5,515.0L568.6,517.8L569.6,520.6L570.7,523.5L571.7,526.3L572.7,529.2L573.8,532.0L574.8,534.8L575.8,537.7L576.9,540.5L577.9,543.4L578.9,546.2L579.9,549.1L580.9,551.9L581.9,554.8L583.0,557.6L584.0,560.5L585.0,563.4L586.0,566.2L587.0,569.1L588.0,571.9L589.0,574.8L589.9,577.7L590.9,580.5L591.9,583.4L592.9,586.2L593.9,589.1L594.9,592.0L595.8,594.8L596.8,597.7L597.8,600.6L598.8,603.4L599.7,606.3L600.7,609.2L601.7,612.0L602.7,614.9L603.6,617.8L604.6,620.6L605.6,623.5L606.5,626.4L607.5,629.2L608.5,632.1L609.4,635.0L610.4,637.8L611.3,640.7L612.3,643.6L613.3,646.5L614.2,649.3L615.2,652.2L616.2,655.1L617.1,657.9L618.1,660.8L619.1,663.7L620.0,666.5L621.0,669.4L621.9,672.3L622.9,675.1L623.9,678.0L624.8,680.8L625.8,683.7L626.8,686.6L627.8,689.4L628.7,692.3L629.7,695.2L630.7,698.0L631.7,700.9L632.6,703.7L633.6,706.6L634.6,709.4L635.6,712.3L636.6,715.1L637.6,718.0L638.5,720.8L639.5,723.7L640.5,726.5L641.5,729.4L642.5,732.2L643.5,735.1L644.5,737.9L645.5,740.8L646.6,743.6L647.6,746.4L648.6,749.3L649.6,752.1L650.6,755.0L651.7,757.8L652.7,760.6L653.7,763.4L654.8,766.3L655.8,769.1L656.8,771.9L657.9,774.7L658.9,777.6L660.0,780.4L661.0,783.2L662.1,786.0L663.2,788.8L664.2,791.6L665.3,794.4L666.4,797.2L667.5,800.0L668.6,802.8L669.7,805.6L670.8,808.4L671.9,811.2L673.0,814.0L673.0,814.0L674.7,811.6L676.3,809.2L677.9,806.7L679.5,804.3L681.1,801.8L682.6,799.3L684.1,796.7L685.6,794.2L687.1,791.6L688.5,789.0L690.0,786.4L691.4,783.7L692.8,781.1L694.1,778.4L695.5,775.7L696.8,773.0L698.1,770.3L699.4,767.6L700.7,764.9L702.0,762.1L703.3,759.4L704.5,756.6L705.8,753.8L707.0,751.0L708.2,748.2L709.4,745.4L710.7,742.6L711.9,739.8L713.1,737.0L714.3,734.1L715.5,731.3L716.7,728.5L717.9,725.6L719.0,722.8L720.2,720.0L721.4,717.1L722.6,714.3L723.8,711.5L725.0,708.7L726.3,705.8L727.5,703.0L728.7,700.2L729.9,697.4L731.2,694.6L732.4,691.8L733.7,689.0L734.9,686.2L736.2,683.5L737.5,680.7L738.8,678.0L740.1,675.2L741.5,672.5L742.8,669.8L744.2,667.1L745.6,664.4L747.0,661.8L748.5,659.1L749.9,656.5L751.4,653.9L752.9,651.3L754.4,648.8L756.0,646.2L757.5,643.7L759.1,641.2L760.8,638.7L762.4,636.2L764.1,633.8L765.8,631.4L767.6,629.0L769.3,626.7L771.1,624.3L773.0,622.0L774.9,619.8L776.8,617.5L778.7,615.3L780.7,613.1L782.7,611.0L784.8,608.9L786.9,606.8L789.0,604.8L791.2,602.7L793.4,600.7L795.6,598.8L797.9,596.9L800.2,595.0L802.5,593.1L804.8,591.3L807.2,589.5L809.6,587.7L812.0,586.0L814.5,584.3L817.0,582.6L819.5,580.9L822.0,579.3L824.6,577.7L827.2,576.2L829.8,574.7L832.4,573.2L835.0,571.7L837.7,570.3L840.4,568.9L843.1,567.6L845.8,566.2L848.6,564.9L851.3,563.7L854.1,562.4L856.9,561.2L859.7,560.0L862.5,558.9L865.3,557.8L868.2,556.7L871.0,555.7L873.9,554.6L876.8,553.7L879.6,552.7L882.5,551.8L885.4,550.9L888.3,550.0L891.3,549.2L894.2,548.4L897.1,547.6L900.1,546.9L903.0,546.2L906.0,545.5L908.9,544.8L911.9,544.2L914.8,543.6L917.8,543.1L920.8,542.6L923.8,542.1L926.8,541.6L929.7,541.1L932.7,540.7L935.7,540.4L938.7,540.0L941.7,539.7L944.7,539.4L947.7,539.1L950.7,538.9L953.7,538.7L956.8,538.5L959.8,538.3L962.8,538.2L965.8,538.1L968.8,538.0L971.8,538.0L974.8,538.0L977.8,538.0L980.8,538.0L983.8,538.1L986.8,538.2L989.8,538.3L992.8,538.4L995.8,538.6L998.8,538.8L1001.8,539.0L1004.8,539.3L1007.7,539.6L1010.7,539.9L1013.7,540.2L1016.7,540.6L1019.6,540.9L1022.6,541.3L1025.6,541.8L1028.5,542.2L1031.5,542.7L1034.4,543.2L1037.4,543.7L1040.3,544.3L1043.3,544.9L1046.2,545.5L1049.1,546.1L1052.1,546.8L1055.0,547.4L1057.9,548.1L1060.8,548.9L1063.7,549.6L1066.6,550.4L1069.5,551.2L1072.4,552.0L1075.3,552.8L1078.2,553.7L1081.0,554.6L1083.9,555.5L1086.8,556.4L1089.6,557.4L1092.5,558.3L1095.3,559.3L1098.1,560.3L1101.0,561.4L1103.8,562.4L1106.6,563.5L1109.4,564.6L1112.2,565.8L1115.0,566.9L1117.7,568.1L1120.5,569.3L1123.3,570.5L1126.0,571.7L1128.8,573.0L1131.5,574.2L1134.2,575.5L1136.9,576.8L1139.7,578.2L1142.4,579.5L1145.0,580.9L1147.7,582.3L1150.4,583.7L1153.1,585.1L1155.7,586.6L1158.4,588.1L1161.0,589.5L1163.6,591.1L1166.2,592.6L1168.8,594.1L1171.4,595.7L1174.0,597.3L1176.5,598.9L1179.1,600.5L1181.6,602.1L1184.2,603.8L1186.7,605.5L1189.2,607.1L1191.7,608.9L1194.2,610.6L1196.7,612.3L1199.1,614.1L1201.6,615.9L1204.0,617.6L1206.4,619.5L1208.8,621.3L1211.2,623.1L1213.6,625.0L1216.0,626.9L1218.3,628.8L1220.7,630.7L1223.0,632.6L1225.3,634.5L1227.6,636.5L1229.9,638.5L1232.2,640.4L1234.5,642.4L1236.7,644.5L1238.9,646.5L1241.1,648.5L1243.3,650.6L1245.5,652.7L1247.7,654.8L1249.9,656.9L1252.0,659.0L1254.1,661.1L1256.2,663.3L1258.3,665.4L1260.4,667.6L1262.4,669.8L1264.5,672.0L1266.5,674.2L1268.5,676.5L1270.5,678.7L1272.5,681.0L1274.4,683.3L1276.3,685.5L1278.3,687.9L1280.2,690.2L1282.0,692.5L1283.9,694.9L1285.7,697.2L1287.6,699.6L1289.4,702.0L1291.1,704.4L1292.9,706.8L1294.6,709.3L1296.4,711.7L1298.1,714.2L1299.7,716.7L1301.4,719.2L1303.1,721.7L1304.7,724.2L1306.3,726.7L1307.8,729.3L1309.4,731.8L1310.9,734.4L1312.4,737.0L1313.9,739.6L1315.4,742.2L1316.8,744.8L1318.3,747.5L1319.7,750.1L1321.0,752.8L1322.4,755.5L1323.7,758.2L1325.0,760.9L1326.3,763.6L1327.5,766.4L1328.8,769.1L1330.0,771.9L1331.2,774.7L1332.3,777.5L1333.4,780.3L1334.6,783.1L1335.6,785.9L1336.7,788.8L1337.7,791.6L1338.7,794.5L1339.7,797.4L1340.6,800.3L1341.6,803.2L1342.5,806.1L1343.3,809.1L1344.2,812.0L1345.0,815.0L1478.0,815.0L1478.6,812.0L1479.3,809.1L1480.0,806.1L1480.7,803.2L1481.4,800.3L1482.2,797.3L1482.9,794.4L1483.7,791.5L1484.5,788.6L1485.3,785.7L1486.1,782.8L1486.9,779.9L1487.8,777.0L1488.6,774.1L1489.5,771.2L1490.4,768.3L1491.3,765.5L1492.3,762.6L1493.2,759.8L1494.2,756.9L1495.1,754.1L1496.1,751.2L1497.1,748.4L1498.2,745.5L1499.2,742.7L1500.3,739.9L1501.3,737.1L1502.4,734.3L1503.5,731.5L1504.6,728.7L1505.7,725.9L1506.9,723.1L1508.0,720.3L1509.2,717.5L1510.4,714.8L1511.6,712.0L1512.8,709.3L1514.0,706.5L1515.3,703.8L1516.5,701.0L1517.8,698.3L1519.1,695.6L1520.4,692.8L1521.7,690.1L1523.0,687.4L1524.3,684.7L1525.7,682.0L1527.0,679.3L1528.4,676.6L1529.8,673.9L1531.2,671.3L1532.6,668.6L1534.0,665.9L1535.4,663.3L1536.9,660.6L1538.3,658.0L1539.8,655.3L1541.3,652.7L1542.7,650.1L1544.2,647.5L1545.8,644.8L1547.3,642.2L1548.8,639.6L1550.4,637.0L1551.9,634.4L1553.5,631.9L1555.1,629.3L1556.7,626.7L1558.3,624.1L1559.9,621.6L1561.5,619.0L1563.1,616.5L1564.8,613.9L1566.4,611.4L1568.1,608.9L1569.8,606.3L1571.4,603.8L1573.1,601.3L1574.8,598.8L1576.5,596.3L1578.3,593.8L1580.0,591.3L1581.7,588.8L1583.5,586.4L1585.2,583.9L1587.0,581.4L1588.8,579.0L1590.6,576.5L1592.3,574.1L1594.1,571.7L1596.0,569.2L1597.8,566.8L1599.6,564.4L1601.4,562.0L1603.3,559.6L1605.1,557.2L1607.0,554.8L1608.9,552.4L1610.7,550.0L1612.6,547.7L1614.5,545.3L1616.5,543.0L1618.4,540.7L1620.3,538.4L1622.3,536.1L1624.2,533.8L1626.2,531.5L1628.2,529.2L1630.2,526.9L1632.2,524.7L1634.2,522.5L1636.2,520.2L1638.2,518.0L1640.3,515.8L1642.4,513.6L1644.4,511.5L1646.5,509.3L1648.6,507.2L1650.8,505.1L1652.9,503.0L1655.0,500.9L1657.2,498.8L1659.4,496.7L1661.6,494.7L1663.8,492.7L1666.0,490.7L1668.2,488.7L1670.5,486.7L1672.7,484.7L1675.0,482.8L1677.3,480.9L1679.6,479.0L1681.9,477.1L1684.3,475.3L1686.6,473.4L1689.0,471.6L1691.4,469.8L1693.8,468.0L1696.2,466.3L1698.7,464.5L1701.1,462.8L1703.6,461.1L1706.1,459.4L1708.6,457.8L1711.1,456.1L1713.6,454.5L1716.2,452.9L1718.7,451.3L1721.3,449.8L1723.9,448.2L1726.4,446.7L1729.0,445.1L1731.7,443.6L1734.3,442.1L1736.9,440.6L1739.6,439.1L1742.2,437.7L1744.9,436.2L1747.5,434.8L1750.2,433.4L1752.9,431.9L1755.6,430.5L1758.3,429.1L1761.0,427.7L1763.7,426.3L1766.4,424.9L1769.1,423.6L1771.8,422.2L1774.5,420.8L1777.3,419.5L1780.0,418.1L1782.7,416.7L1785.5,415.4L1788.2,414.0L1790.9,412.7L1793.7,411.3L1796.4,410.0L1799.1,408.7L1801.9,407.3L1804.6,406.0L1807.3,404.6L1810.0,403.3L1812.8,401.9L1815.5,400.6L1818.2,399.2L1820.9,397.8L1823.6,396.5L1826.3,395.1L1829.0,393.7L1831.7,392.4L1834.4,391.0L1837.1,389.6L1839.8,388.2L1842.5,386.8L1845.2,385.4L1847.8,384.0L1850.5,382.6L1853.2,381.2L1855.9,379.8L1858.5,378.4L1861.2,377.0L1863.9,375.6L1866.5,374.2L1869.2,372.8L1871.9,371.4L1874.5,370.0L1877.2,368.5L1879.8,367.1L1882.5,365.7L1885.2,364.3L1887.8,362.9L1890.5,361.5L1893.2,360.1L1895.8,358.7L1898.5,357.3L1901.2,355.9L1903.9,354.5L1906.5,353.1L1909.2,351.7L1911.9,350.3L1914.5,348.9L1917.2,347.4L1919.9,346.0L1922.5,344.6L1925.2,343.2L1927.9,341.8L1930.5,340.4L1933.2,339.0L1935.9,337.6L1938.5,336.1L1941.2,334.7L1943.8,333.3L1946.5,331.9L1949.1,330.4L1951.8,329.0L1954.4,327.6L1957.1,326.1L1959.7,324.7L1962.3,323.2L1965.0,321.8L1967.6,320.3L1970.2,318.9L1972.8,317.4L1975.5,315.9L1978.1,314.4L1980.7,313.0L1983.3,311.5L1985.9,310.0L1988.5,308.5L1991.1,307.0L1993.7,305.5L1996.2,304.0L1998.8,302.4L2001.4,300.9L2004.0,299.4L2006.5,297.8L2009.1,296.3L2011.6,294.7L2014.1,293.2L2016.7,291.6L2019.2,290.0L2021.7,288.4L2024.2,286.8L2026.7,285.2L2029.2,283.6L2031.7,282.0L2034.2,280.3L2036.6,278.7L2039.1,277.0L2041.5,275.3L2044.0,273.6L2046.4,271.9L2048.8,270.1L2051.2,268.4L2053.6,266.6L2055.9,264.8L2058.3,263.0L2060.6,261.1L2063.0,259.3L2065.3,257.4L2067.6,255.5L2069.9,253.6L2072.1,251.6L2074.4,249.6L2076.6,247.6L2078.8,245.6L2081.0,243.6L2083.2,241.5L2085.4,239.5L2087.6,237.4L2089.8,235.3L2091.9,233.1L2094.0,231.0L2096.2,228.8L2098.3,226.7L2100.4,224.5L2102.5,222.3L2104.6,220.1L2106.7,217.9L2108.8,215.7L2110.9,213.4L2112.9,211.2L2115.0,209.0L2117.1,206.7L2119.1,204.5L2121.2,202.2L2123.2,199.9L2125.3,197.7L2127.4,195.4L2129.4,193.1L2131.5,190.9L2133.5,188.6L2135.6,186.3L2137.6,184.1L2139.7,181.8L2141.7,179.6L2143.8,177.3L2145.8,175.1L2147.9,172.8L2150.0,170.6L2152.0,168.4L2154.1,166.2L2156.2,164.0L2158.3,161.8L2160.4,159.6L2162.5,157.4L2164.6,155.2L2166.7,153.1L2168.8,151.0L2171.0,148.9L2173.1,146.8L2175.3,144.7L2177.5,142.6L2179.7,140.6L2181.8,138.5L2184.1,136.5L2186.3,134.6L2188.5,132.6L2190.8,130.7L2193.0,128.7L2195.3,126.8L2197.6,125.0L2199.9,123.1L2202.2,121.3L2204.6,119.5L2206.9,117.8L2209.3,116.1L2211.7,114.4L2214.1,112.7L2216.6,111.1L2219.0,109.5L2221.5,107.9L2224.0,106.4L2226.6,104.9L2229.1,103.4L2231.7,102.0L2234.3,100.6L2236.9,99.2L2239.5,97.9L2242.2,96.7L2244.9,95.4L2247.6,94.2L2250.4,93.1L2253.2,92.0L2256.0,90.9L2258.8,89.9L2261.7,89.0L2264.5,88.0L2267.5,87.2L2270.4,86.3L2273.4,85.6L2276.4,84.8L2279.5,84.2L2282.6,83.5L2285.7,83.0L2288.8,82.5L2292.0,82.0" stroke="#f00" stroke-width="14"/>
<path d="M355.5,604.0L358.5,603.3L361.4,602.7L364.4,602.1L367.3,601.4L370.3,600.8L373.3,600.3L376.2,599.7L379.2,599.1L382.2,598.6L385.1,598.1L388.1,597.6L391.1,597.1L394.0,596.6L397.0,596.2L400.0,595.7L402.9,595.3L405.9,594.9L408.9,594.5L411.9,594.1L414.8,593.7L417.8,593.3L420.8,593.0L423.8,592.7L426.8,592.3L429.7,592.0L432.7,591.7L435.7,591.4L438.7,591.1L441.7,590.9L444.6,590.6L447.6,590.4L450.6,590.1L453.6,589.9L456.6,589.7L459.6,589.5L462.6,589.3L465.6,589.1L468.6,589.0L471.6,588.8L474.5,588.7L477.5,588.5L480.5,588.4L483.5,588.2L486.5,588.1L489.5,588.0L492.5,587.9L495.5,587.8L498.5,587.7L501.5,587.7L504.5,587.6L507.5,587.5L510.5,587.5L513.5,587.4L516.5,587.4L519.5,587.3L522.5,587.3L525.5,587.3L528.5,587.3L531.5,587.2L534.5,587.2L537.5,587.2L540.5,587.2L543.5,587.2L546.6,587.2L549.6,587.2L552.6,587.3L555.6,587.3L558.6,587.3L561.6,587.3L564.6,587.4L567.6,587.4L570.6,587.4L573.6,587.5L576.6,587.5L579.7,587.6L582.7,587.6L585.7,587.7L588.7,587.7L591.7,587.8L594.7,587.8L597.7,587.9L600.7,587.9L603.8,588.0L606.8,588.0L609.8,588.1L612.8,588.1L615.8,588.2L618.8,588.3L621.8,588.3L624.9,588.4L627.9,588.4L630.9,588.5L633.9,588.5L636.9,588.6L639.9,588.6L643.0,588.7L646.0,588.7L649.0,588.8L652.0,588.8L655.0,588.8L658.0,588.9L661.0,588.9L664.1,588.9L667.1,589.0L670.1,589.0L673.1,589.0L676.1,589.1L679.1,589.1L682.2,589.1L685.2,589.1L688.2,589.1L691.2,589.2L694.2,589.2L697.2,589.2L700.3,589.2L703.3,589.2L706.3,589.2L709.3,589.2L712.3,589.2L715.4,589.2L718.4,589.2L721.4,589.2L724.4,589.2L727.4,589.2L730.4,589.2L733.4,589.2L736.5,589.1L739.5,589.1L742.5,589.1L745.5,589.1L748.5,589.0L751.5,589.0L754.6,589.0L757.6,588.9L760.6,588.9L763.6,588.8L766.6,588.8L769.6,588.8L772.7,588.7L775.7,588.7L778.7,588.6L781.7,588.5L784.7,588.5L787.7,588.4L790.7,588.3L793.7,588.3L796.8,588.2L799.8,588.1L802.8,588.0L805.8,587.9L808.8,587.9L811.8,587.8L814.8,587.7L817.8,587.6L820.9,587.5L823.9,587.4L826.9,587.3L829.9,587.2L832.9,587.0L835.9,586.9L838.9,586.8L841.9,586.7L844.9,586.5L847.9,586.4L850.9,586.3L853.9,586.1L857.0,586.0L860.0,585.8L863.0,585.7L866.0,585.5L869.0,585.4L872.0,585.2L875.0,585.1L878.0,584.9L881.0,584.7L884.0,584.5L887.0,584.4L890.0,584.2L893.0,584.0L896.0,583.8L899.0,583.6L902.0,583.4L905.0,583.2L908.0,583.0L911.0,582.8L914.0,582.6L917.0,582.4L920.0,582.2L923.0,581.9L926.0,581.7L929.0,581.5L932.0,581.2L935.0,581.0L938.0,580.8L941.0,580.5L944.0,580.3L947.0,580.0L950.0,579.8L953.0,579.5L956.0,579.3L959.0,579.0L962.0,578.8L965.0,578.5L968.0,578.2L970.9,577.9L973.9,577.7L976.9,577.4L979.9,577.1L982.9,576.8L985.9,576.5L988.9,576.2L991.9,575.9L994.9,575.6L997.9,575.3L1000.9,575.0L1003.9,574.7L1006.8,574.4L1009.8,574.1L1012.8,573.8L1015.8,573.5L1018.8,573.2L1021.8,572.8L1024.8,572.5L1027.8,572.2L1030.7,571.8L1033.7,571.5L1036.7,571.2L1039.7,570.8L1042.7,570.5L1045.7,570.1L1048.7,569.8L1051.6,569.4L1054.6,569.1L1057.6,568.7L1060.6,568.3L1063.6,568.0L1066.6,567.6L1069.6,567.2L1072.5,566.9L1075.5,566.5L1078.5,566.1L1081.5,565.7L1084.5,565.3L1087.4,565.0L1090.4,564.6L1093.4,564.2L1096.4,563.8L1099.4,563.4L1102.3,563.0L1105.3,562.6L1108.3,562.2L1111.3,561.8L1114.3,561.4L1117.2,560.9L1120.2,560.5L1123.2,560.1L1126.2,559.7L1129.2,559.3L1132.1,558.8L1135.1,558.4L1138.1,558.0L1141.1,557.6L1144.0,557.1L1147.0,556.7L1150.0,556.2L1153.0,555.8L1155.9,555.4L1158.9,554.9L1161.9,554.5L1164.9,554.0L1167.8,553.6L1170.8,553.1L1173.8,552.7L1176.8,552.2L1179.7,551.7L1182.7,551.3L1185.7,550.8L1188.7,550.3L1191.6,549.9L1194.6,549.4L1197.6,548.9L1200.5,548.4L1203.5,548.0L1206.5,547.5L1209.5,547.0L1212.4,546.5L1215.4,546.0L1218.4,545.5L1221.3,545.0L1224.3,544.5L1227.3,544.0L1230.2,543.5L1233.2,543.0L1236.2,542.5L1239.1,542.0L1242.1,541.5L1245.1,541.0L1248.1,540.5L1251.0,540.0L1254.0,539.5L1257.0,539.0L1259.9,538.4L1262.9,537.9L1265.9,537.4L1268.8,536.9L1271.8,536.4L1274.8,535.8L1277.7,535.3L1280.7,534.8L1283.6,534.2L1286.6,533.7L1289.6,533.2L1292.5,532.6L1295.5,532.1L1298.5,531.5L1301.4,531.0L1304.4,530.5L1307.4,529.9L1310.3,529.4L1313.3,528.8L1316.3,528.3L1319.2,527.7L1322.2,527.2L1325.1,526.6L1328.1,526.0L1331.1,525.5L1334.0,524.9L1337.0,524.4L1339.9,523.8L1342.9,523.2L1345.9,522.7L1348.8,522.1L1351.8,521.5L1354.8,521.0L1357.7,520.4L1360.7,519.8L1363.6,519.2L1366.6,518.6L1369.5,518.1L1372.5,517.5L1375.5,516.9L1378.4,516.3L1381.4,515.7L1384.3,515.1L1387.3,514.5L1390.2,513.9L1393.2,513.4L1396.2,512.8L1399.1,512.2L1402.1,511.6L1405.0,510.9L1408.0,510.3L1410.9,509.7L1413.9,509.1L1416.8,508.5L1419.8,507.9L1422.7,507.3L1425.7,506.7L1428.6,506.0L1431.6,505.4L1434.5,504.8L1437.5,504.1L1440.4,503.5L1443.4,502.9L1446.3,502.2L1449.3,501.6L1452.2,501.0L1455.2,500.3L1458.1,499.7L1461.0,499.0L1464.0,498.4L1466.9,497.7L1469.9,497.1L1472.8,496.4L1475.8,495.7L1478.7,495.1L1481.6,494.4L1484.6,493.7L1487.5,493.1L1490.4,492.4L1493.4,491.7L1496.3,491.0L1499.2,490.3L1502.2,489.6L1505.1,488.9L1508.0,488.3L1511.0,487.6L1513.9,486.9L1516.8,486.2L1519.8,485.4L1522.7,484.7L1525.6,484.0L1528.5,483.3L1531.5,482.6L1534.4,481.9L1537.3,481.1L1540.2,480.4L1543.1,479.7L1546.1,478.9L1549.0,478.2L1551.9,477.5L1554.8,476.7L1557.7,476.0L1560.6,475.2L1563.5,474.5L1566.5,473.7L1569.4,472.9L1572.3,472.2L1575.2,471.4L1578.1,470.6L1581.0,469.9L1583.9,469.1L1586.8,468.3L1589.7,467.5L1592.6,466.7L1595.5,465.9L1598.4,465.1L1601.3,464.3L1604.2,463.5L1607.1,462.7L1610.0,461.9L1612.9,461.1L1615.8,460.2L1618.7,459.4L1621.5,458.6L1624.4,457.8L1627.3,456.9L1630.2,456.1L1633.1,455.2L1636.0,454.4L1638.9,453.5L1641.7,452.7L1644.6,451.8L1647.5,450.9L1650.4,450.1L1653.2,449.2L1656.1,448.3L1659.0,447.4L1661.8,446.5L1664.7,445.7L1667.6,444.8L1670.4,443.9L1673.3,443.0L1676.2,442.0L1679.0,441.1L1681.9,440.2L1684.7,439.3L1687.6,438.4L1690.5,437.4L1693.3,436.5L1696.2,435.6L1699.0,434.6L1701.9,433.7L1704.7,432.7L1707.5,431.7L1710.4,430.8L1713.2,429.8L1716.1,428.8L1718.9,427.9L1721.7,426.9L1724.6,425.9L1727.4,424.9L1730.2,423.9L1733.1,422.9L1735.9,421.9L1738.7,420.9L1741.5,419.9L1744.4,418.8L1747.2,417.8L1750.0,416.8L1752.8,415.7L1755.6,414.7L1758.5,413.6L1761.3,412.6L1764.1,411.5L1766.9,410.5L1769.7,409.4L1772.5,408.3L1775.3,407.2L1778.1,406.2L1780.9,405.1L1783.7,404.0L1786.5,402.9L1789.3,401.8L1792.1,400.7L1794.8,399.5L1797.6,398.4L1800.4,397.3L1803.2,396.2L1806.0,395.0L1808.8,393.9L1811.5,392.7L1814.3,391.6L1817.1,390.4L1819.8,389.2L1822.6,388.1L1825.4,386.9L1828.1,385.7L1830.9,384.5L1833.7,383.3L1836.4,382.1L1839.2,380.9L1841.9,379.7L1844.7,378.5L1847.4,377.3L1850.2,376.1L1852.9,374.9L1855.7,373.6L1858.4,372.4L1861.2,371.2L1863.9,369.9L1866.6,368.7L1869.4,367.4L1872.1,366.2L1874.9,364.9L1877.6,363.6L1880.3,362.4L1883.1,361.1L1885.8,359.8L1888.5,358.5L1891.2,357.2L1894.0,355.9L1896.7,354.6L1899.4,353.3L1902.1,352.0L1904.8,350.7L1907.6,349.4L1910.3,348.1L1913.0,346.8L1915.7,345.5L1918.4,344.2L1921.1,342.8L1923.8,341.5L1926.6,340.2L1929.3,338.8L1932.0,337.5L1934.7,336.1L1937.4,334.8L1940.1,333.5L1942.8,332.1L1945.5,330.7L1948.2,329.4L1950.9,328.0L1953.6,326.7L1956.3,325.3L1959.0,323.9L1961.7,322.5L1964.4,321.2L1967.1,319.8L1969.8,318.4L1972.5,317.0L1975.2,315.6L1977.8,314.3L1980.5,312.9L1983.2,311.5L1985.9,310.1L1988.6,308.7L1991.3,307.3L1994.0,305.9L1996.7,304.5L1999.4,303.1L2002.0,301.7L2004.7,300.3L2007.4,298.9L2010.1,297.5L2012.8,296.1L2015.5,294.7L2018.2,293.3L2020.9,292.0L2023.6,290.6L2026.3,289.2L2028.9,287.8L2031.6,286.4L2034.3,285.1L2037.0,283.7L2039.7,282.3L2042.4,281.0L2045.1,279.6L2047.8,278.3L2050.5,276.9L2053.2,275.6L2055.9,274.3L2058.6,273.0L2061.4,271.6L2064.1,270.3L2066.8,269.0L2069.5,267.7L2072.2,266.5L2074.9,265.2L2077.7,263.9L2080.4,262.7L2083.1,261.4L2085.8,260.2L2088.6,259.0L2091.3,257.7L2094.0,256.5L2096.8,255.3L2099.5,254.2L2102.3,253.0L2105.0,251.8L2107.8,250.7L2110.5,249.5L2113.3,248.4L2116.1,247.3L2118.8,246.2L2121.6,245.2L2124.4,244.1L2127.2,243.0L2130.0,242.0L2132.7,241.0L2135.5,240.0L2138.3,239.0L2141.1,238.1L2143.9,237.1L2146.8,236.2L2149.6,235.3L2152.4,234.4L2155.2,233.5L2158.1,232.7L2160.9,231.9L2163.7,231.1L2166.6,230.3L2169.4,229.5L2172.3,228.8L2175.1,228.1L2178.0,227.4L2180.9,226.7L2183.8,226.0L2186.6,225.4L2189.5,224.8L2192.4,224.2L2195.3,223.7L2198.3,223.2L2201.2,222.7L2204.1,222.2L2207.0,221.8L2210.0,221.3L2212.9,221.0L2215.8,220.6L2218.8,220.3L2221.8,220.0L2224.7,219.7L2227.7,219.5L2230.7,219.2L2233.7,219.1L2236.7,218.9L2239.7,218.8L2242.7,218.7L2245.7,218.7L2248.7,218.6L2251.8,218.6L2254.8,218.7L2257.9,218.8L2260.9,218.9L2264.0,219.0L2267.1,219.2L2270.2,219.4L2273.3,219.7L2276.4,220.0L2279.5,220.3L2282.6,220.7L2285.7,221.1L2288.9,221.5L2292.0,222.0" stroke="#f00" stroke-width="14" stroke-dasharray="17 37"/>
</g>
<rect x="1063" y="802.7" width="1227.5" height="255.79999999999995" fill="#fff" stroke="#000" stroke-width="5"/>
<g font-family="Liberation Serif, serif" fill="#000">
<text transform="translate(1073.2,888.5) scale(0.959,1)" font-size="87">Not optimized</text>
<text transform="translate(1134.2,1010.6) scale(0.964,1)" font-size="87">Optimized</text>
<text x="1785" y="889" font-size="85">|<tspan font-style="italic" dx="1">S</tspan><tspan font-size="60" dy="22">11</tspan><tspan dy="-22">|</tspan></text>
<text x="2147.5" y="889" font-size="85">|<tspan font-style="italic" dx="1">S</tspan><tspan font-size="60" dy="22">21</tspan><tspan dy="-22">|</tspan></text>
<text x="1783" y="1011" font-size="85">|<tspan font-style="italic" dx="1">S</tspan><tspan font-size="60" dy="22">11</tspan><tspan dy="-22">|</tspan></text>
<text x="2145" y="1011" font-size="85">|<tspan font-style="italic" dx="1">S</tspan><tspan font-size="60" dy="22">21</tspan><tspan dy="-22">|</tspan></text>
</g>
<g fill="none" stroke-linecap="round">
<line x1="1574" y1="861" x2="1765" y2="861" stroke="#000" stroke-width="12"/>
<rect x="1652" y="840.5" width="34" height="34" fill="#000" stroke="none"/>
<line x1="1939" y1="861" x2="2126" y2="861" stroke="#000" stroke-width="12" stroke-dasharray="19 35"/>
<circle cx="2031.7" cy="859.5" r="17" fill="#000" stroke="none"/>
<line x1="1574" y1="984" x2="1765" y2="984" stroke="#f00" stroke-width="13"/>
<line x1="1937.6" y1="984" x2="2126" y2="984" stroke="#f00" stroke-width="13" stroke-dasharray="18 36"/>
</g>
<g stroke="#000" stroke-width="9" fill="none" stroke-linecap="butt">
<line x1="327" y1="42.0" x2="2295.0" y2="42.0"/>
<line x1="327" y1="1058.5" x2="2295.0" y2="1058.5"/>
<line x1="355.5" y1="37.5" x2="355.5" y2="1084.5"/>
<line x1="2290.5" y1="37.5" x2="2290.5" y2="1084.5"/>
<line x1="327" y1="168.0" x2="355.5" y2="168.0"/>
<line x1="327" y1="295.5" x2="355.5" y2="295.5"/>
<line x1="327" y1="421.8" x2="355.5" y2="421.8"/>
<line x1="327" y1="549.0" x2="355.5" y2="549.0"/>
<line x1="327" y1="677.5" x2="355.5" y2="677.5"/>
<line x1="327" y1="804.4" x2="355.5" y2="804.4"/>
<line x1="327" y1="931.6" x2="355.5" y2="931.6"/>
<line x1="339" y1="105.0" x2="355.5" y2="105.0"/>
<line x1="339" y1="231.8" x2="355.5" y2="231.8"/>
<line x1="339" y1="358.6" x2="355.5" y2="358.6"/>
<line x1="339" y1="485.4" x2="355.5" y2="485.4"/>
<line x1="339" y1="613.2" x2="355.5" y2="613.2"/>
<line x1="339" y1="741.0" x2="355.5" y2="741.0"/>
<line x1="339" y1="868.0" x2="355.5" y2="868.0"/>
<line x1="339" y1="995.0" x2="355.5" y2="995.0"/>
<line x1="546.6" y1="1058.5" x2="546.6" y2="1084.5"/>
<line x1="742.0" y1="1058.5" x2="742.0" y2="1084.5"/>
<line x1="934.6" y1="1058.5" x2="934.6" y2="1084.5"/>
<line x1="1127.0" y1="1058.5" x2="1127.0" y2="1084.5"/>
<line x1="1323.0" y1="1058.5" x2="1323.0" y2="1084.5"/>
<line x1="1516.4" y1="1058.5" x2="1516.4" y2="1084.5"/>
<line x1="1708.7" y1="1058.5" x2="1708.7" y2="1084.5"/>
<line x1="1904.3" y1="1058.5" x2="1904.3" y2="1084.5"/>
<line x1="2098.5" y1="1058.5" x2="2098.5" y2="1084.5"/>
<line x1="451.1" y1="1058.5" x2="451.1" y2="1073.5"/>
<line x1="644.3" y1="1058.5" x2="644.3" y2="1073.5"/>
<line x1="838.3" y1="1058.5" x2="838.3" y2="1073.5"/>
<line x1="1030.8" y1="1058.5" x2="1030.8" y2="1073.5"/>
<line x1="1225.0" y1="1058.5" x2="1225.0" y2="1073.5"/>
<line x1="1419.7" y1="1058.5" x2="1419.7" y2="1073.5"/>
<line x1="1612.6" y1="1058.5" x2="1612.6" y2="1073.5"/>
<line x1="1806.5" y1="1058.5" x2="1806.5" y2="1073.5"/>
<line x1="2001.4" y1="1058.5" x2="2001.4" y2="1073.5"/>
<line x1="2194.5" y1="1058.5" x2="2194.5" y2="1073.5"/>
</g>
<g font-family="Liberation Serif, serif" font-weight="bold" font-size="100" fill="#000">
<text x="952" y="1267">Frequency (GHz)</text>
<text transform="translate(95,888) rotate(-90)">-parameters (dB)</text>
<text transform="translate(95,946) rotate(-90) skewX(-10) scale(1.07)" font-style="italic" font-weight="normal">S</text>
</g>
<g font-family="Liberation Serif, serif" font-weight="bold" font-size="101.5" fill="#000">
<text x="356.5" y="1180.5" text-anchor="middle">2</text>
<text x="547.6" y="1180.5" text-anchor="middle">3</text>
<text x="743.0" y="1180.5" text-anchor="middle">4</text>
<text x="935.6" y="1180.5" text-anchor="middle">5</text>
<text x="1128.0" y="1180.5" text-anchor="middle">6</text>
<text x="1324.0" y="1180.5" text-anchor="middle">7</text>
<text x="1517.4" y="1180.5" text-anchor="middle">8</text>
<text x="1709.7" y="1180.5" text-anchor="middle">9</text>
<text x="1905.3" y="1180.5" text-anchor="middle">10</text>
<text x="2099.5" y="1180.5" text-anchor="middle">11</text>
<text x="2291.5" y="1180.5" text-anchor="middle">12</text>
</g>
</g>
<g font-family="Liberation Serif, serif" font-weight="bold" font-size="101.5" fill="#000">
<text x="236.07" y="91.6" text-anchor="end">0</text>
<text x="273.68" y="217.1" text-anchor="end"><tspan font-size="108" stroke="#000" stroke-width="2.2" dy="5.18">−</tspan><tspan dx="7.77" dy="-5.18">5</tspan></text>
<text x="299.07" y="342.7" text-anchor="end"><tspan font-size="108" stroke="#000" stroke-width="2.2" dy="5.18">−</tspan><tspan dx="6.82" dy="-5.18">10</tspan></text>
<text x="299.07" y="468.2" text-anchor="end"><tspan font-size="108" stroke="#000" stroke-width="2.2" dy="5.18">−</tspan><tspan dx="6.82" dy="-5.18">15</tspan></text>
<text x="299.07" y="593.8" text-anchor="end"><tspan font-size="108" stroke="#000" stroke-width="2.2" dy="5.18">−</tspan><tspan dx="6.82" dy="-5.18">20</tspan></text>
<text x="299.07" y="719.4" text-anchor="end"><tspan font-size="108" stroke="#000" stroke-width="2.2" dy="5.18">−</tspan><tspan dx="6.82" dy="-5.18">25</tspan></text>
<text x="299.07" y="844.9" text-anchor="end"><tspan font-size="108" stroke="#000" stroke-width="2.2" dy="5.18">−</tspan><tspan dx="6.82" dy="-5.18">30</tspan></text>
<text x="299.07" y="970.5" text-anchor="end"><tspan font-size="108" stroke="#000" stroke-width="2.2" dy="5.18">−</tspan><tspan dx="6.82" dy="-5.18">35</tspan></text>
<text x="299.07" y="1096.0" text-anchor="end"><tspan font-size="108" stroke="#000" stroke-width="2.2" dy="5.18">−</tspan><tspan dx="6.82" dy="-5.18">40</tspan></text>
</g>
</svg></body></html>
